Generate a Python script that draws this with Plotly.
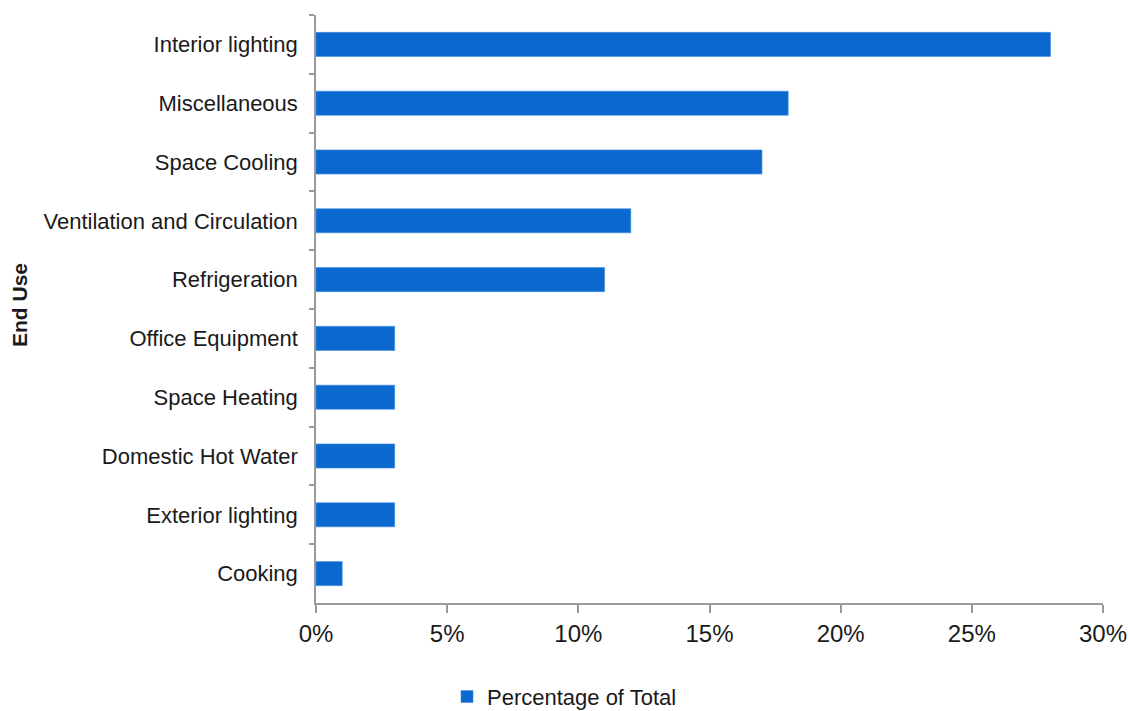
import plotly.graph_objects as go

# End-use categories, top to bottom
end_uses = [
    "Interior lighting",
    "Miscellaneous",
    "Space Cooling",
    "Ventilation and Circulation",
    "Refrigeration",
    "Office Equipment",
    "Space Heating",
    "Domestic Hot Water",
    "Exterior lighting",
    "Cooking",
]
# Share of total energy use (fraction)
share = [0.28, 0.18, 0.17, 0.12, 0.11, 0.03, 0.03, 0.03, 0.03, 0.01]

bar_color = "#0b68cf"
axis_color = "#9a9a9a"
text_color = "#1a1a1a"
font_family = "Liberation Sans, Arial, sans-serif"

fig = go.Figure(
    go.Bar(
        x=share,
        y=end_uses,
        orientation="h",
        name="Percentage of Total",
        marker=dict(color=bar_color, line=dict(color="#3f8ee0", width=0.6)),
        showlegend=True,
    )
)

fig.update_layout(
    width=1129,
    height=711,
    margin=dict(l=316, r=26, t=15, b=108),
    paper_bgcolor="white",
    plot_bgcolor="white",
    bargap=0.59,
    font=dict(family=font_family, color=text_color),
    showlegend=True,
    legend=dict(
        orientation="h",
        xref="container",
        yref="container",
        x=0.5,
        xanchor="center",
        y=0.02,
        yanchor="middle",
        font=dict(size=22, color=text_color),
        itemwidth=30,
    ),
    annotations=[
        dict(
            text="<b>End Use</b>",
            xref="paper",
            yref="paper",
            x=-0.376,
            y=0.507,
            xanchor="center",
            yanchor="middle",
            textangle=-90,
            showarrow=False,
            font=dict(size=21, color=text_color),
        )
    ],
)

fig.update_xaxes(
    range=[0, 0.30],
    dtick=0.05,
    tick0=0,
    tickformat=".0%",
    showgrid=False,
    zeroline=False,
    showline=True,
    linecolor=axis_color,
    linewidth=1.5,
    ticks="outside",
    ticklen=8,
    tickcolor=axis_color,
    tickwidth=1.5,
    tickfont=dict(size=24, color=text_color),
    tickangle=0,
    automargin=False,
)

fig.update_yaxes(
    categoryorder="array",
    categoryarray=end_uses,
    autorange="reversed",
    showgrid=False,
    zeroline=False,
    showline=True,
    linecolor=axis_color,
    linewidth=1.5,
    ticks="outside",
    tickson="boundaries",
    ticklen=5,
    tickcolor=axis_color,
    tickwidth=1.5,
    ticklabelstandoff=12,
    tickfont=dict(size=22, color=text_color),
    automargin=False,
)

fig.write_html("out.html")
